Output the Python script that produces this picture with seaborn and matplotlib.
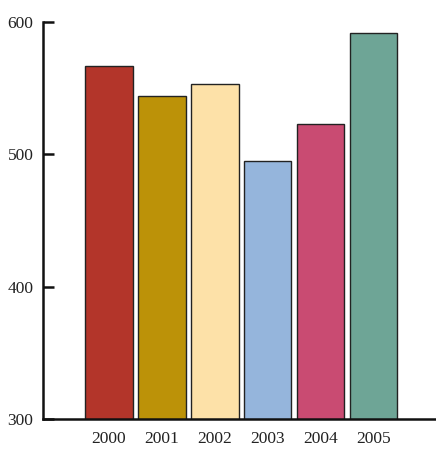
import matplotlib
matplotlib.use("Agg")
import matplotlib.pyplot as plt
import seaborn as sns
import pandas as pd

# data
years = ["2000", "2001", "2002", "2003", "2004", "2005"]
values = [567, 544, 553, 495, 523, 592]
colors = ["#B3352A", "#BC9208", "#FDE1A8", "#95B5DC", "#C94B72", "#6EA596"]

df = pd.DataFrame({"year": years, "value": values})

sns.set_style("white")
plt.rcParams["font.family"] = ["Liberation Serif", "DejaVu Serif"]

fig = plt.figure(figsize=(4.36, 4.5), dpi=100)
ax = fig.add_axes([0.099, 0.069, 0.901, 0.882])

sns.barplot(data=df, x="year", y="value", hue="year", palette=colors,
            legend=False, width=0.9, edgecolor="#222222", linewidth=1,
            saturation=1, ax=ax)

ax.set_ylim(300, 600)
ax.set_xlim(-1.24, 6.18)
ax.set_yticks([300, 400, 500, 600])
ax.set_xlabel("")
ax.set_ylabel("")

for s in ["top", "right"]:
    ax.spines[s].set_visible(False)
for s in ["left", "bottom"]:
    ax.spines[s].set_linewidth(1.8)
    ax.spines[s].set_color("#111111")

ax.tick_params(axis="y", left=True, direction="in", length=8, width=1.8,
               labelsize=12.5, color="#111111", labelcolor="#222222", pad=7)
ax.tick_params(axis="x", bottom=False, length=0, labelsize=12.5, pad=9,
               labelcolor="#222222")

fig.savefig("out.png", dpi=100)
